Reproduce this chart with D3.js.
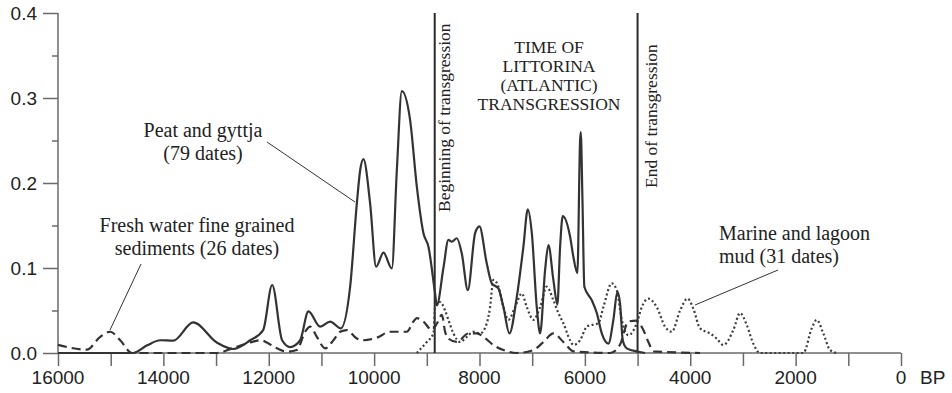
<!DOCTYPE html>
<html>
<head>
<meta charset="utf-8">
<script src="https://cdn.jsdelivr.net/npm/d3@7"></script>
<style>
  body { margin: 0; background: #fff; }
  svg { display: block; }
</style>
</head>
<body>
<script>
var width = 952, height = 393;

// [years BP, probability]
var peat = [
  [16000, 0], [14573, 0], [14307, 0.009], [14060, 0.015], [13814, 0.0145], [13434, 0.036],
  [12979, 0.012], [12675, 0.0047], [12353, 0.015], [12106, 0.027], [11935, 0.080],
  [11746, 0.015], [11594, 0.007], [11404, 0.015], [11247, 0.049], [11025, 0.031],
  [10835, 0.037], [10632, 0.029], [10455, 0.078], [10328, 0.176], [10265, 0.215],
  [10203, 0.228], [10076, 0.176], [9962, 0.1015], [9823, 0.118], [9664, 0.0996],
  [9569, 0.215], [9474, 0.308], [9317, 0.274], [9190, 0.196], [9064, 0.141],
  [8969, 0.125], [8843, 0.070], [8810, 0.056], [8685, 0.10], [8590, 0.133],
  [8526, 0.131], [8431, 0.135], [8336, 0.117], [8222, 0.074], [8083, 0.141],
  [8002, 0.149], [7861, 0.105], [7767, 0.082], [7641, 0.076], [7546, 0.054],
  [7432, 0.023], [7292, 0.066], [7167, 0.125], [7083, 0.169], [7007, 0.141],
  [6913, 0.054], [6850, 0.023], [6755, 0.0976], [6692, 0.127], [6598, 0.086],
  [6522, 0.057], [6470, 0.125], [6420, 0.161], [6281, 0.137], [6218, 0.113],
  [6142, 0.094], [6091, 0.25], [6078, 0.260], [6047, 0.184], [6010, 0.078],
  [5869, 0.062], [5774, 0.047], [5679, 0.023], [5554, 0.011], [5459, 0.039],
  [5383, 0.072], [5332, 0.058], [5281, 0.015], [5205, 0.0055], [4985, 0.0015], [4858, 0]
];

var fresh = [
  [16000, 0.0095], [15451, 0.004], [15199, 0.019], [15009, 0.025], [14819, 0.015],
  [14597, 0], [12985, 0], [12675, 0.006], [12296, 0.0133], [12163, 0.015],
  [11846, 0.0055], [11657, 0.0015], [11467, 0.0035], [11309, 0.025], [11214, 0.031],
  [11087, 0.019], [10930, 0.0055], [10772, 0.015], [10645, 0.025], [10518, 0.027],
  [10328, 0.017], [10203, 0.015], [9949, 0.018], [9696, 0.025], [9379, 0.025],
  [9254, 0.037], [9190, 0.041], [9064, 0.037], [8905, 0.027], [8805, 0.035],
  [8715, 0.045], [8653, 0.025], [8590, 0.017], [8431, 0.013], [8211, 0.023],
  [8051, 0.023], [7925, 0.019], [7736, 0.0094], [7546, 0.0035], [7292, 0],
  [6977, 0.0035], [6787, 0.013], [6598, 0.023], [6408, 0.013], [6218, 0.002],
  [5522, 0], [5332, 0.01], [5175, 0.037], [5028, 0.038], [4890, 0.027],
  [4795, 0.013], [4700, 0.002], [3814, 0]
];

var marine = [
  [9190, 0], [9000, 0.013], [8874, 0.023], [8843, 0.054], [8748, 0.060], [8653, 0.05],
  [8590, 0.039], [8495, 0.023], [8368, 0.013], [8241, 0.019], [8115, 0.025],
  [7988, 0.023], [7861, 0.035], [7799, 0.054], [7736, 0.086], [7641, 0.078],
  [7546, 0.054], [7451, 0.039], [7324, 0.054], [7197, 0.070], [7102, 0.054],
  [6977, 0.039], [6850, 0.054], [6723, 0.078], [6598, 0.062], [6503, 0.047],
  [6408, 0.035], [6281, 0.015], [6218, 0.0094], [6091, 0.015], [5964, 0.031],
  [5869, 0.033], [5744, 0.035], [5649, 0.054], [5490, 0.082], [5395, 0.074],
  [5300, 0.039], [5175, 0.021], [5015, 0.035], [4920, 0.054], [4795, 0.064],
  [4636, 0.054], [4478, 0.031], [4351, 0.025], [4193, 0.050], [4050, 0.064],
  [3941, 0.052], [3814, 0.029], [3624, 0.023], [3497, 0.017], [3372, 0.0094],
  [3182, 0.027], [3055, 0.047], [2928, 0.033], [2803, 0.011], [2676, 0],
  [1854, 0], [1694, 0.029], [1600, 0.039], [1474, 0.023], [1347, 0.0035], [1220, 0]
];

var xTickValues = d3.range(0, 16001, 1000);
var xLabelValues = d3.range(0, 16001, 2000);
var yMajor = [0, 0.1, 0.2, 0.3, 0.4];
var yMinor = [0.05, 0.15, 0.25, 0.35];
var transgression = [8850, 5000];

var x = d3.scaleLinear().domain([16000, 0]).range([58, 901]);
var y = d3.scaleLinear().domain([0, 0.4]).range([353, 13]);

var svg = d3.select("body").append("svg")
  .attr("width", width).attr("height", height);

var axisColor = "#6a6a6a", ink = "#333";
var sans = "'Liberation Sans', Arial, sans-serif";
var serif = "'Liberation Serif', 'Times New Roman', serif";

// y axis
var ya = svg.append("g").attr("transform", "translate(58,0)")
  .call(d3.axisLeft(y).tickValues(yMajor).tickSize(15).tickPadding(6)
    .tickFormat(d3.format(".1f")));
ya.select(".domain").remove();
ya.selectAll(".tick line").attr("stroke", axisColor).attr("stroke-width", 1.5);
ya.selectAll(".tick text").style("font-family", sans).style("font-size", "19px").attr("fill", "#222");

svg.append("g").attr("transform", "translate(58,0)")
  .call(d3.axisLeft(y).tickValues(yMinor).tickSize(6).tickFormat(""))
  .call(function (g) { g.select(".domain").remove(); })
  .selectAll(".tick line").attr("stroke", axisColor).attr("stroke-width", 1.5);

svg.append("line").attr("x1", 58).attr("x2", 58).attr("y1", y(0.4)).attr("y2", y(0))
  .attr("stroke", axisColor).attr("stroke-width", 1.5);

// x axis
var xa = svg.append("g").attr("transform", "translate(0,353)")
  .call(d3.axisBottom(x).tickValues(xTickValues).tickSize(13).tickFormat(""));
xa.select(".domain").remove();
xa.selectAll(".tick line").attr("stroke", axisColor).attr("stroke-width", 1.5);

svg.append("g").selectAll("text").data(xLabelValues).enter().append("text")
  .attr("x", function (d) { return x(d); }).attr("y", 384)
  .attr("text-anchor", "middle")
  .style("font-family", sans).style("font-size", "19px").attr("fill", "#222")
  .text(function (d) { return d; });

svg.append("text").attr("x", 920).attr("y", 384)
  .style("font-family", sans).style("font-size", "19px").attr("fill", "#222").text("BP");

svg.append("line").attr("x1", x(16000)).attr("x2", x(0)).attr("y1", 353).attr("y2", 353)
  .attr("stroke", axisColor).attr("stroke-width", 1.5);

// transgression boundaries
svg.selectAll(".bound").data(transgression).enter().append("line")
  .attr("x1", function (d) { return x(d); }).attr("x2", function (d) { return x(d); })
  .attr("y1", y(0.4)).attr("y2", y(0))
  .attr("stroke", "#2a2a2a").attr("stroke-width", 2);

// curves
var line = d3.line()
  .x(function (d) { return x(d[0]); })
  .y(function (d) { return y(d[1]); })
  .curve(d3.curveMonotoneX);

svg.append("path").datum(marine).attr("d", line)
  .attr("fill", "none").attr("stroke", "#3c3c3c").attr("stroke-width", 2.2)
  .attr("stroke-dasharray", "2,2.5");

svg.append("path").datum(fresh).attr("d", line)
  .attr("fill", "none").attr("stroke", "#333").attr("stroke-width", 2.2)
  .attr("stroke-dasharray", "9,5");

svg.append("path").datum(peat).attr("d", line)
  .attr("fill", "none").attr("stroke", "#333").attr("stroke-width", 2.2)
  .attr("stroke-linejoin", "round");

// annotations
function label(lines, xPos, yPos, anchor, size, dy) {
  var t = svg.append("text").attr("text-anchor", anchor)
    .style("font-family", serif).style("font-size", size + "px").attr("fill", "#222");
  lines.forEach(function (s, i) {
    t.append("tspan").attr("x", xPos).attr("y", yPos + i * dy).text(s);
  });
}

label(["Peat and gyttja", "(79 dates)"], 203, 137, "middle", 20, 23);
label(["Fresh water fine grained", "sediments (26 dates)"], 197, 232, "middle", 20, 23);
label(["Marine and lagoon", "mud (31 dates)"], 719, 240, "start", 20, 23);
label(["TIME OF", "LITTORINA", "(ATLANTIC)", "TRANSGRESSION"], 549, 53, "middle", 17.5, 19);

svg.append("text").attr("transform", "translate(450,212) rotate(-90)")
  .style("font-family", serif).style("font-size", "17.5px").attr("fill", "#222")
  .text("Beginning of transgression");
svg.append("text").attr("transform", "translate(657,188) rotate(-90)")
  .style("font-family", serif).style("font-size", "17.5px").attr("fill", "#222")
  .text("End of transgression");

// leader lines
var leaders = [
  [267, 142, 355, 202],
  [141, 264, 110, 330],
  [778, 270, 695, 305]
];
svg.selectAll(".leader").data(leaders).enter().append("line")
  .attr("x1", function (d) { return d[0]; }).attr("y1", function (d) { return d[1]; })
  .attr("x2", function (d) { return d[2]; }).attr("y2", function (d) { return d[3]; })
  .attr("stroke", "#333").attr("stroke-width", 1);
</script>
</body>
</html>
